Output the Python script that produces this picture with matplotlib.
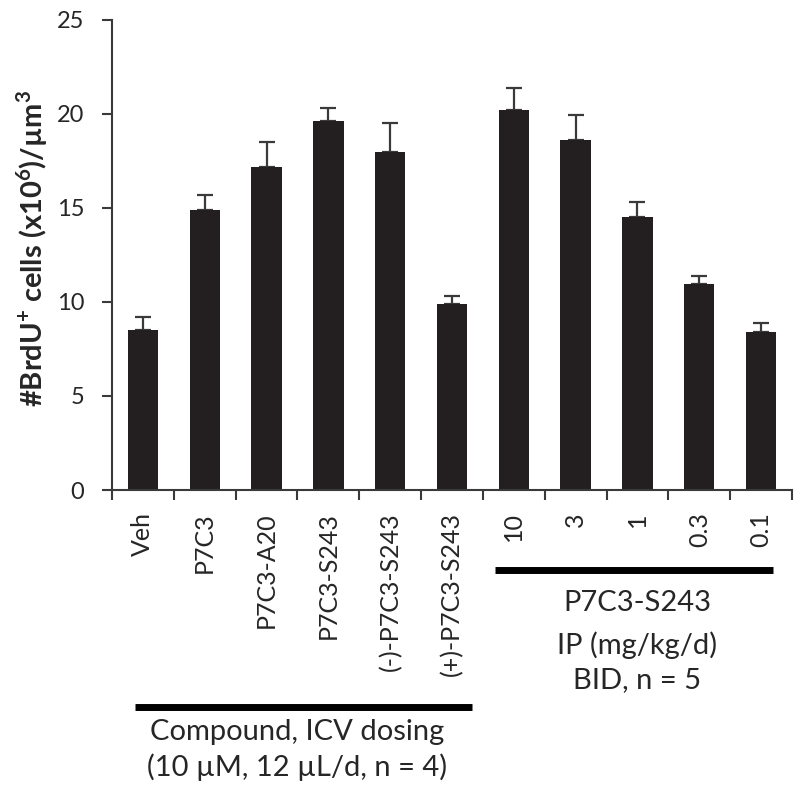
import matplotlib
matplotlib.use("Agg")
import matplotlib.pyplot as plt
import matplotlib.transforms as mtransforms
import numpy as np

plt.rcParams["font.family"] = ["Lato", "DejaVu Sans"]
plt.rcParams["mathtext.fontset"] = "custom"
plt.rcParams["mathtext.rm"] = "Lato"
plt.rcParams["mathtext.bf"] = "Lato:bold"

# values
labels = ["Veh", "P7C3", "P7C3-A20", "P7C3-S243", "(-)-P7C3-S243", "(+)-P7C3-S243",
          "10", "3", "1", "0.3", "0.1"]
means = [8.5, 14.9, 17.2, 19.6, 18.0, 9.9, 20.2, 18.6, 14.5, 10.95, 8.4]
err_top = [9.2, 15.7, 18.5, 20.3, 19.5, 10.3, 21.4, 19.95, 15.3, 11.4, 8.9]
errs = [t - m for t, m in zip(err_top, means)]

group1_text = ["Compound, ICV dosing", "(10 µM, 12 µL/d, n = 4)"]
group2_text = ["P7C3-S243", "IP (mg/kg/d)", "BID, n = 5"]

dark = "#231f20"
axcol = "#3a3a3a"
txtcol = "#262626"

fig = plt.figure(figsize=(8, 7.96), dpi=100)
ax = fig.add_axes([0.14, 0.3844, 0.85, 0.5906])

x = np.arange(len(labels))
ax.bar(x, means, width=0.49, color=dark, zorder=2)
ax.errorbar(x, means, yerr=[np.zeros(len(errs)), errs], fmt="none",
            ecolor=axcol, elinewidth=1.6, capsize=6, capthick=1.6, zorder=1)

ax.set_xlim(-0.5, len(labels) - 0.5)
ax.set_ylim(0, 25)
ax.set_yticks([0, 5, 10, 15, 20, 25])
ax.tick_params(axis="y", direction="out", length=7, width=1.5, color=axcol,
               pad=13, labelsize=17, labelcolor=txtcol)

ax.set_xticks(np.arange(len(labels) + 1) - 0.5)
ax.set_xticklabels([])
ax.tick_params(axis="x", which="major", direction="out", length=7, width=1.5, color=axcol)
ax.set_xticks(x, minor=True)
ax.set_xticklabels(labels, minor=True, rotation=90, ha="center", va="top",
                   fontsize=18, color=txtcol)
ax.tick_params(axis="x", which="minor", length=0, pad=16)

for s in ["top", "right"]:
    ax.spines[s].set_visible(False)
for s in ["left", "bottom"]:
    ax.spines[s].set_color(axcol)
    ax.spines[s].set_linewidth(1.5)

fig.text(0.04, 0.688, "#BrdU$^{\\mathbf{+}}$ cells (x10$^{\\mathbf{6}}$)/µm$^{\\mathbf{3}}$",
         rotation=90, ha="center", va="center", fontsize=21, fontweight="bold",
         color=txtcol)

trans = mtransforms.blended_transform_factory(ax.transData, ax.transAxes)
ax.plot([-0.13, 5.32], [-0.462, -0.462], transform=trans, color="black",
        lw=5, clip_on=False, solid_capstyle="butt")
ax.plot([5.70, 10.2], [-0.170, -0.170], transform=trans, color="black",
        lw=5, clip_on=False, solid_capstyle="butt")

for t, yy in zip(group1_text, [-0.515, -0.590]):
    ax.text(2.5, yy, t, transform=trans, ha="center", va="center",
            fontsize=21, color=txtcol)
for t, yy in zip(group2_text, [-0.240, -0.330, -0.404]):
    ax.text(8.0, yy, t, transform=trans, ha="center", va="center",
            fontsize=21, color=txtcol)

fig.savefig("out.png", dpi=100)
